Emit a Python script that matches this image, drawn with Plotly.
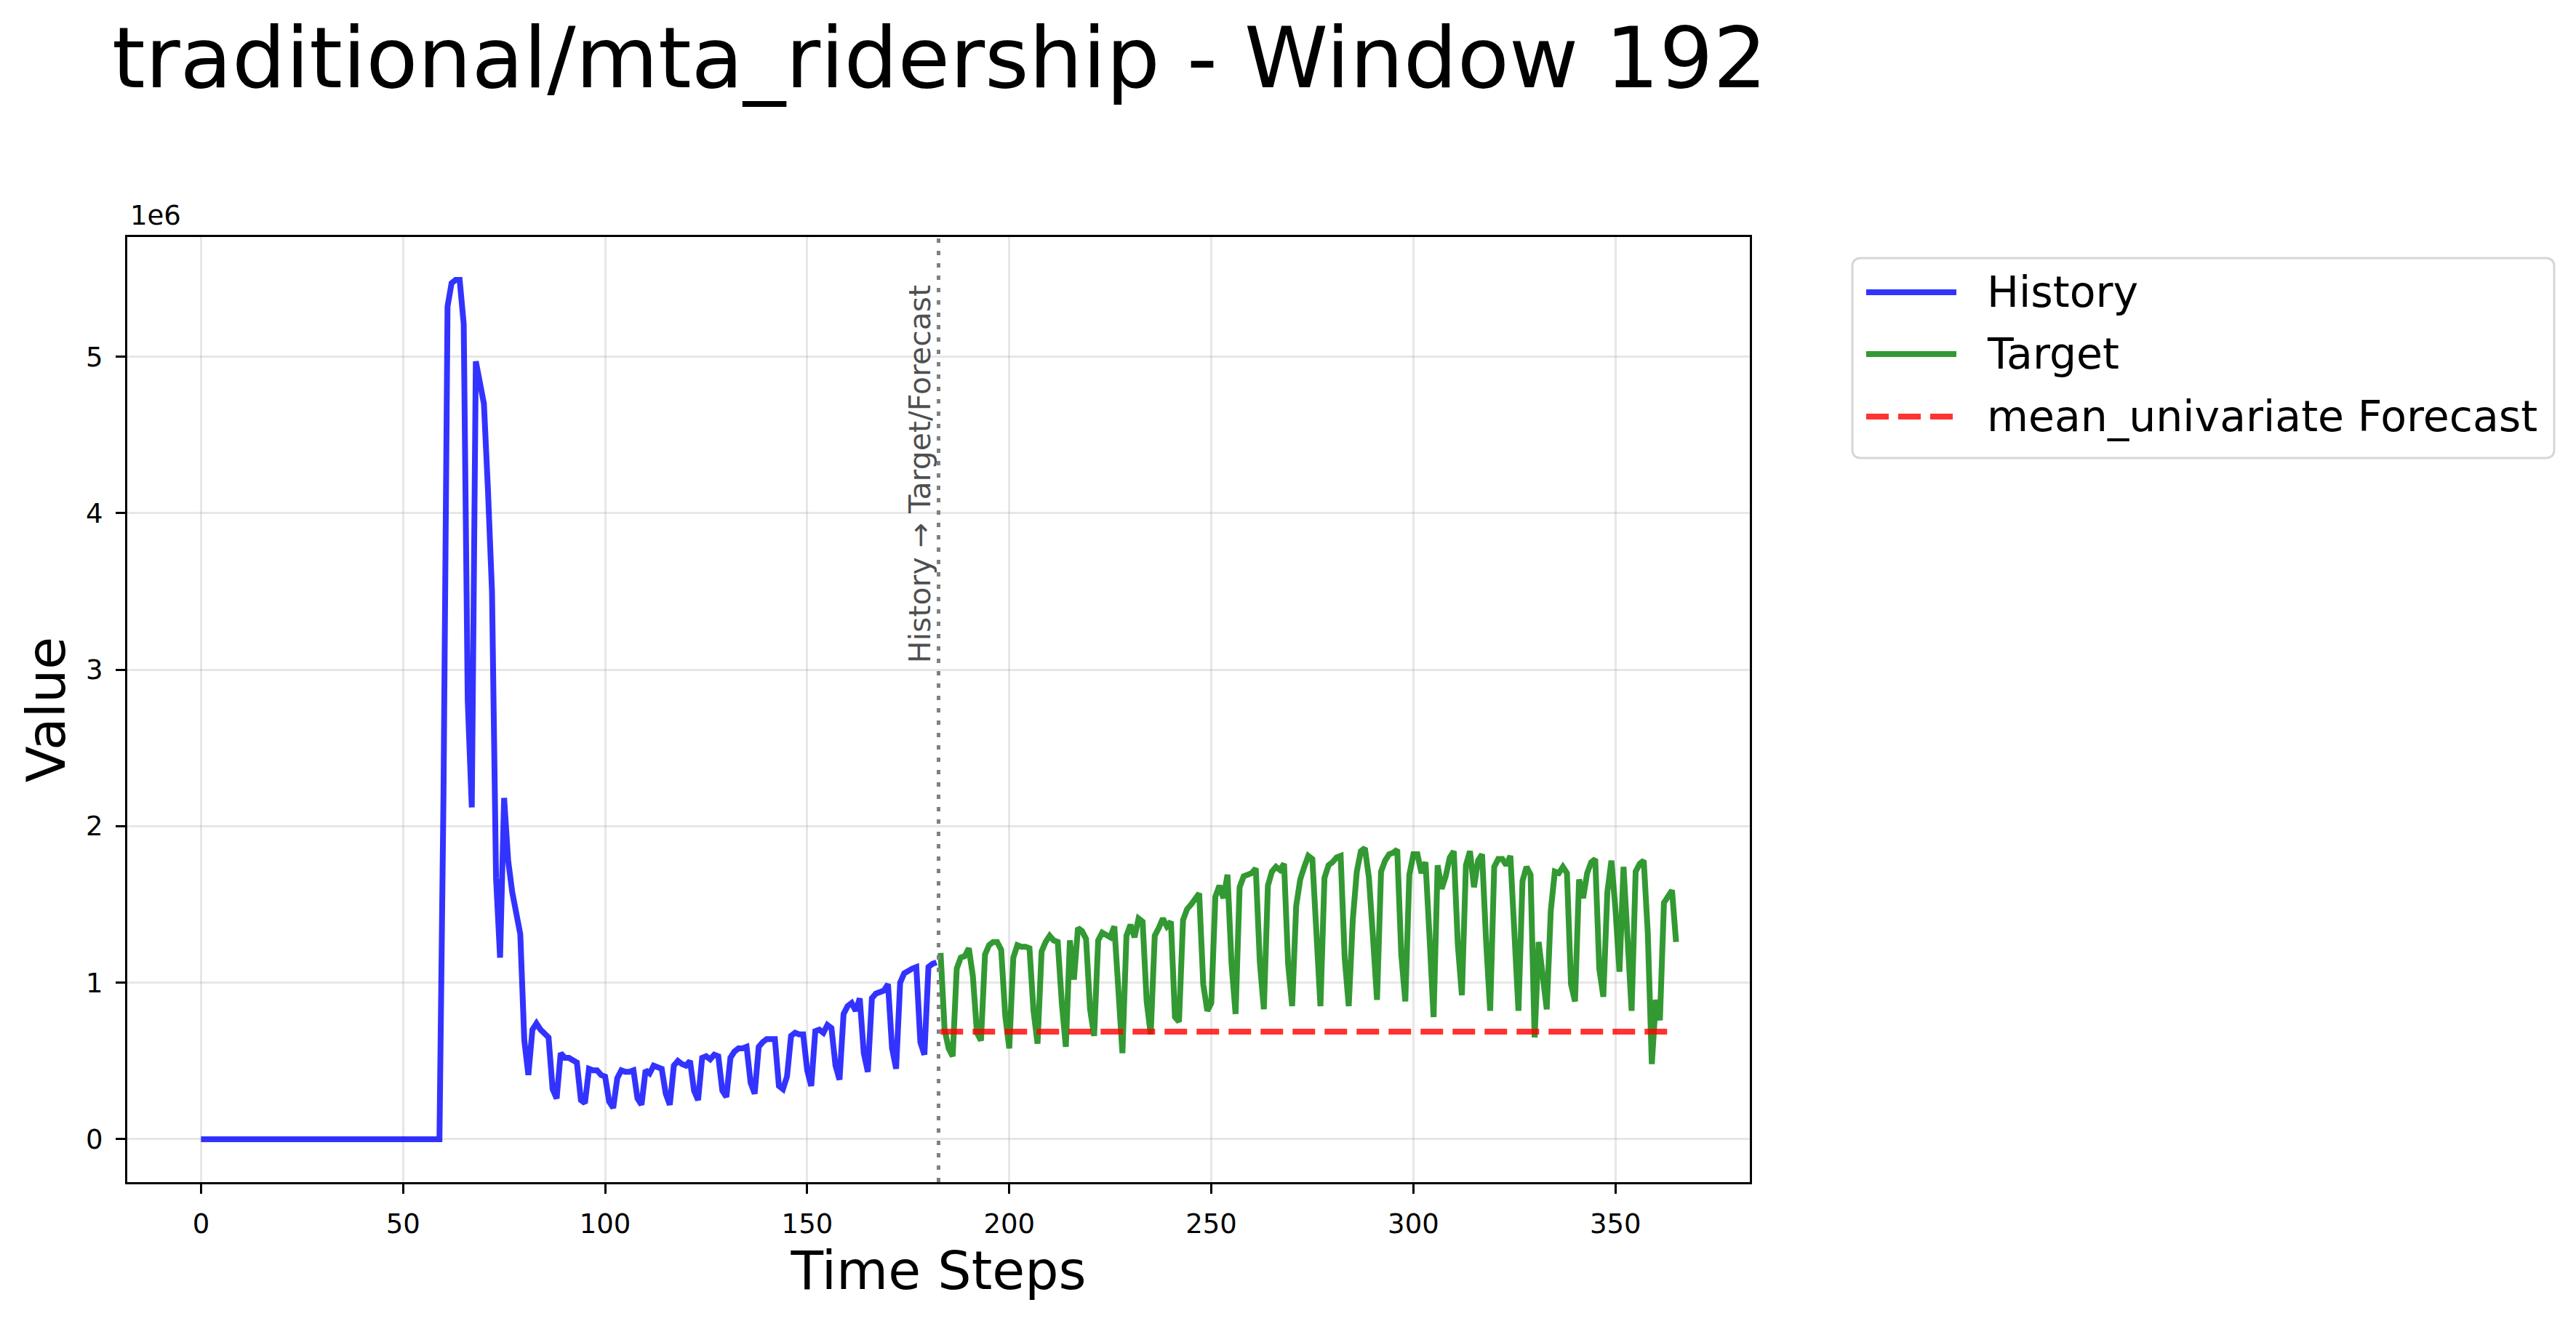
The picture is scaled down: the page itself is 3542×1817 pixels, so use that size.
import plotly.graph_objects as go

# ---------------- data ----------------
history_millions = [
    0, 0, 0, 0, 0, 0, 0, 0, 0, 0,
    0, 0, 0, 0, 0, 0, 0, 0, 0, 0,
    0, 0, 0, 0, 0, 0, 0, 0, 0, 0,
    0, 0, 0, 0, 0, 0, 0, 0, 0, 0,
    0, 0, 0, 0, 0, 0, 0, 0, 0, 0,
    0, 0, 0, 0, 0, 0, 0, 0, 0, 0,
    2.20, 5.32, 5.47, 5.49, 5.49, 5.21, 2.80,
    2.12, 4.97, 4.85, 4.70, 4.15, 3.50, 1.67,
    1.16, 2.18, 1.78, 1.58, 1.42, 1.31, 0.63,
    0.41, 0.70, 0.74, 0.70, 0.67, 0.65, 0.32,
    0.26, 0.55, 0.52, 0.52, 0.50, 0.49, 0.25,
    0.23, 0.45, 0.44, 0.44, 0.41, 0.40, 0.24,
    0.20, 0.39, 0.44, 0.43, 0.43, 0.44, 0.26,
    0.22, 0.44, 0.42, 0.47, 0.46, 0.45, 0.29,
    0.22, 0.47, 0.50, 0.48, 0.47, 0.50, 0.31,
    0.25, 0.52, 0.53, 0.51, 0.54, 0.53, 0.31,
    0.27, 0.52, 0.56, 0.58, 0.58, 0.59, 0.36,
    0.29, 0.59, 0.62, 0.64, 0.64, 0.64, 0.34,
    0.32, 0.40, 0.66, 0.68, 0.67, 0.67, 0.44,
    0.34, 0.69, 0.70, 0.68, 0.73, 0.71, 0.47,
    0.38, 0.80, 0.85, 0.87, 0.82, 0.90, 0.55,
    0.43, 0.90, 0.93, 0.94, 0.95, 0.99, 0.58,
    0.45, 1.00, 1.06, 1.08, 1.09, 1.10, 0.62,
    0.54, 1.10, 1.12, 1.13,
]

target_millions = [
    1.19, 0.70, 0.58, 0.53, 1.09, 1.16, 1.17,
    1.22, 1.04, 0.68, 0.63, 1.18, 1.24, 1.26,
    1.26, 1.21, 0.79, 0.58, 1.16, 1.24, 1.23,
    1.23, 1.22, 0.82, 0.61, 1.20, 1.26, 1.30,
    1.27, 1.26, 0.87, 0.59, 1.27, 1.02, 1.35,
    1.33, 1.28, 0.83, 0.66, 1.27, 1.32, 1.30,
    1.29, 1.36, 0.90, 0.55, 1.30, 1.37, 1.29,
    1.41, 1.39, 0.88, 0.67, 1.30, 1.35, 1.41,
    1.36, 1.39, 0.78, 0.75, 1.40, 1.47, 1.50,
    1.53, 1.57, 0.99, 0.82, 0.87, 1.55, 1.62,
    1.54, 1.69, 1.12, 0.80, 1.61, 1.68, 1.69,
    1.70, 1.73, 1.13, 0.83, 1.62, 1.71, 1.74,
    1.72, 1.76, 1.12, 0.85, 1.49, 1.66, 1.74,
    1.81, 1.79, 1.22, 0.85, 1.67, 1.75, 1.77,
    1.80, 1.81, 1.16, 0.85, 1.40, 1.71, 1.84,
    1.86, 1.67, 1.29, 0.89, 1.71, 1.78, 1.82,
    1.83, 1.85, 1.18, 0.88, 1.69, 1.82, 1.82,
    1.70, 1.77, 1.29, 0.78, 1.75, 1.60, 1.68,
    1.80, 1.84, 1.24, 0.92, 1.75, 1.84, 1.61,
    1.78, 1.82, 1.26, 0.82, 1.74, 1.79, 1.79,
    1.75, 1.81, 1.29, 0.82, 1.65, 1.74, 1.69,
    0.65, 1.26, 1.06, 0.83, 1.46, 1.71, 1.70,
    1.74, 1.70, 0.99, 0.88, 1.66, 1.54, 1.70,
    1.77, 1.79, 1.09, 0.91, 1.58, 1.78, 1.47,
    1.07, 1.74, 1.29, 0.82, 1.71, 1.76, 1.78,
    1.32, 0.48, 0.89, 0.76, 1.51, 1.55, 1.59,
    1.26,
]

forecast_mean_millions = 0.687

UNIT = 1e6
x_tick_values = [0, 50, 100, 150, 200, 250, 300, 350]
y_tick_values = [0, 1, 2, 3, 4, 5]          # in units of 1e6
y_tick_labels = ["0", "1", "2", "3", "4", "5"]

series_names = ["History", "Target", "mean_univariate Forecast"]
title_text = "traditional/mta_ridership - Window 192"
divider_label = "History \u2192 Target/Forecast"

# ---------------- derived ----------------
n_hist = len(history_millions)
n_tgt = len(target_millions)
hist_x = list(range(n_hist))
tgt_x = list(range(n_hist, n_hist + n_tgt))
hist_y = [v * UNIT for v in history_millions]
tgt_y = [v * UNIT for v in target_millions]
fc_x = [tgt_x[0], tgt_x[-1]]
fc_y = [forecast_mean_millions * UNIT] * 2
divider_x = (hist_x[-1] + tgt_x[0]) / 2

all_x = hist_x + tgt_x
all_y = hist_y + tgt_y + fc_y
xpad = 0.05 * (max(all_x) - min(all_x))
ypad = 0.05 * (max(all_y) - min(all_y))
x_range = [min(all_x) - xpad, max(all_x) + xpad]
y_range = [min(all_y) - ypad, max(all_y) + ypad]

# ---------------- layout geometry (page pixels) ----------------
PAGE_W, PAGE_H = 3542, 1817
OFF = 8                       # default body margin of the html page
W, H = PAGE_W - 2 * OFF, PAGE_H - 2 * OFF
PL, PR, PT, PB = 175 - OFF, 2406 - OFF, 326 - OFF, 1626 - OFF   # figure pixels
FONT = "DejaVu Sans"
C_HIST = "rgba(0,0,255,0.8)"
C_TGT = "rgba(0,128,0,0.8)"
C_FC = "rgba(255,0,0,0.8)"
LW = 8
FC_DASH = "31px,13px"


def px2paper_x(page_px):
    return (page_px - OFF - PL) / (PR - PL)


def px2paper_y(page_py):
    return (PB - (page_py - OFF)) / (PB - PT)


fig = go.Figure()
fig.add_trace(go.Scatter(x=hist_x, y=hist_y, mode="lines", name=series_names[0],
                         line=dict(color=C_HIST, width=LW), showlegend=False))
fig.add_trace(go.Scatter(x=tgt_x, y=tgt_y, mode="lines", name=series_names[1],
                         line=dict(color=C_TGT, width=LW), showlegend=False))
fig.add_trace(go.Scatter(x=fc_x, y=fc_y, mode="lines", name=series_names[2],
                         line=dict(color=C_FC, width=LW, dash=FC_DASH), showlegend=False))

axis_common = dict(
    showline=True, linecolor="black", linewidth=3, mirror=True,
    ticks="outside", ticklen=13, tickwidth=3, tickcolor="black",
    showgrid=True, gridcolor="rgba(176,176,176,0.3)", gridwidth=3,
    zeroline=False, tickfont=dict(family=FONT, size=37, color="black"),
    automargin=False,
)

fig.update_layout(
    width=W, height=H,
    margin=dict(l=PL, r=W - PR, t=PT, b=H - PB, pad=0, autoexpand=False),
    paper_bgcolor="white", plot_bgcolor="white",
    showlegend=False,
    title=dict(text=title_text, font=dict(family=FONT, size=116.5, color="black"),
               x=(154 - OFF) / W, xref="container", xanchor="left",
               y=1 - (79 - OFF) / H, yref="container", yanchor="middle"),
    xaxis=dict(range=x_range, tickvals=x_tick_values,
               ticktext=[str(v) for v in x_tick_values],
               title=dict(text="Time Steps", font=dict(family=FONT, size=73, color="black"),
                          standoff=14),
               ticklabelstandoff=10,
               **axis_common),
    yaxis=dict(range=y_range, tickvals=[v * UNIT for v in y_tick_values],
               ticktext=y_tick_labels,
               title=dict(text="Value", font=dict(family=FONT, size=73, color="black"),
                          standoff=5),
               ticklabelstandoff=10,
               **axis_common),
)

# divider line + label
fig.add_shape(type="line", xref="x", yref="paper", x0=divider_x, x1=divider_x, y0=0, y1=1,
              line=dict(color="rgb(128,128,128)", width=5, dash="6px,11px"), layer="above")
fig.add_annotation(x=divider_x, y=3.03 * UNIT, xref="x", yref="y", text=divider_label,
                   textangle=-90, xanchor="right", yanchor="bottom", showarrow=False,
                   xshift=0, font=dict(family=FONT, size=41, color="rgba(0,0,0,0.7)"))

# offset text "1e6"
fig.add_annotation(x=0, y=1, xref="paper", yref="paper", text="1e6", showarrow=False,
                   xanchor="left", yanchor="bottom", yshift=6, xshift=2,
                   font=dict(family=FONT, size=37, color="black"))

# ---------------- hand-drawn legend (matplotlib style) ----------------
bx0, by0, bx1, by1, rad = 2547, 355, 3512, 630, 12


def rounded_path(x0, y0, x1, y1, r):
    X = px2paper_x
    Y = px2paper_y
    pts = [
        f"M {X(x0 + r)} {Y(y0)}", f"L {X(x1 - r)} {Y(y0)}",
        f"Q {X(x1)} {Y(y0)} {X(x1)} {Y(y0 + r)}", f"L {X(x1)} {Y(y1 - r)}",
        f"Q {X(x1)} {Y(y1)} {X(x1 - r)} {Y(y1)}", f"L {X(x0 + r)} {Y(y1)}",
        f"Q {X(x0)} {Y(y1)} {X(x0)} {Y(y1 - r)}", f"L {X(x0)} {Y(y0 + r)}",
        f"Q {X(x0)} {Y(y0)} {X(x0 + r)} {Y(y0)}", "Z",
    ]
    return " ".join(pts)


fig.add_shape(type="path", xref="paper", yref="paper",
              path=rounded_path(bx0, by0, bx1, by1, rad),
              line=dict(color="rgb(214,214,214)", width=3),
              fillcolor="rgba(255,255,255,0.8)", layer="above")

rows_y = [402, 487, 573]
styles = [(C_HIST, "solid"), (C_TGT, "solid"), (C_FC, FC_DASH)]
for name, ry, (col, dash) in zip(series_names, rows_y, styles):
    fig.add_shape(type="line", xref="paper", yref="paper",
                  x0=px2paper_x(2566), x1=px2paper_x(2690),
                  y0=px2paper_y(ry), y1=px2paper_y(ry),
                  line=dict(color=col, width=LW, dash=dash), layer="above")
    fig.add_annotation(x=px2paper_x(2730), y=px2paper_y(ry), xref="paper", yref="paper",
                       text=name, showarrow=False, xanchor="left", yanchor="middle",
                       font=dict(family=FONT, size=58.5, color="black"))

fig.write_html("out.html")
